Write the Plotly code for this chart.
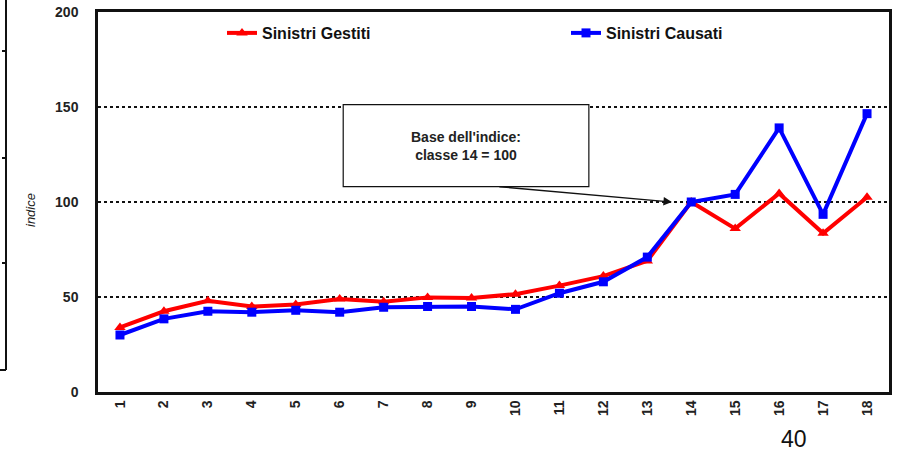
import plotly.graph_objects as go

classi = list(range(1, 19))
tick_labels = [str(c) for c in classi]
sinistri_gestiti = [34, 42.5, 48, 45, 46, 49, 47.5, 49.8, 49.5, 51.5, 56, 61, 69, 100, 86, 104.5, 83.5, 102.5]
sinistri_causati = [30, 38.5, 42.5, 42, 43, 42, 44.6, 45, 45, 43.5, 52, 58, 71, 100, 104, 139, 93.5, 146.5]
y_ticks = [0, 50, 100, 150, 200]

W, H = 901, 452
L, R, T, B = 98, 12, 12, 60
PW, PH = W - L - R, H - T - B

def px_x(px):
    return (px - L) / PW

def px_y(py):
    return (H - B - py) / PH

FONT = "Liberation Sans, Arial, sans-serif"

fig = go.Figure()
fig.add_trace(go.Scatter(
    x=classi, y=sinistri_gestiti, name="Sinistri Gestiti", mode="lines+markers",
    line=dict(color="#ff0000", width=4),
    marker=dict(symbol="triangle-up", size=10, color="#ff0000"),
    legend="legend", showlegend=True))
fig.add_trace(go.Scatter(
    x=classi, y=sinistri_causati, name="Sinistri Causati", mode="lines+markers",
    line=dict(color="#0000ff", width=4),
    marker=dict(symbol="square", size=9, color="#0000ff"),
    legend="legend2", showlegend=True))

shapes = [
    dict(type="rect", xref="x", yref="y", x0=6.08, x1=11.67, y0=108.1, y1=151.2,
         line=dict(color="#111111", width=1.2), fillcolor="white", layer="above"),
    dict(type="line", xref="paper", yref="paper", x0=px_x(6), x1=px_x(6), y0=px_y(0), y1=px_y(370),
         line=dict(color="#111111", width=2)),
    dict(type="line", xref="paper", yref="paper", x0=px_x(0), x1=px_x(6), y0=px_y(370), y1=px_y(370),
         line=dict(color="#111111", width=2)),
]
for ty in [51, 158, 263]:
    shapes.append(dict(type="line", xref="paper", yref="paper", x0=px_x(2), x1=px_x(6),
                       y0=px_y(ty), y1=px_y(ty), line=dict(color="#111111", width=2)))

annotations = [
    dict(x=13.56, y=100, ax=9.6, ay=108.1, xref="x", yref="y", axref="x", ayref="y",
         text="", showarrow=True, arrowhead=2, arrowsize=1.3, arrowwidth=1.3, arrowcolor="#111111"),
    dict(x=8.875, y=129.5, xref="x", yref="y", text="Base dell'indice:<br>classe 14 = 100",
         showarrow=False, font=dict(family=FONT, size=14, color="#222222", weight="bold")),
    dict(x=px_x(30), y=px_y(210), xref="paper", yref="paper", xanchor="center", yanchor="middle",
         text="<i>indice</i>", textangle=-90,
         showarrow=False, font=dict(family=FONT, size=13, color="#222222")),
    dict(x=px_x(794), y=px_y(439), xref="paper", yref="paper", xanchor="center", yanchor="middle",
         text="40", showarrow=False, borderpad=0,
         font=dict(family="Liberation Sans Narrow, Liberation Sans, sans-serif", size=23, color="#111111")),
]

fig.update_layout(
    width=W, height=H,
    margin=dict(l=L, r=R, t=T, b=B),
    paper_bgcolor="white", plot_bgcolor="white",
    font=dict(family=FONT, color="#222222"),
    showlegend=True,
    shapes=shapes, annotations=annotations,
    legend=dict(x=px_x(222), y=px_y(33), xanchor="left", yanchor="middle",
                bgcolor="rgba(0,0,0,0)", font=dict(family=FONT, size=16, color="#111111", weight="bold")),
    legend2=dict(x=px_x(566), y=px_y(33), xanchor="left", yanchor="middle",
                 bgcolor="rgba(0,0,0,0)", font=dict(family=FONT, size=16, color="#111111", weight="bold")),
    xaxis=dict(range=[0.5, 18.5], tickvals=classi, ticktext=tick_labels, tickangle=-90,
               showgrid=False, showline=True, linecolor="#111111", linewidth=2.5, mirror=True,
               ticks="", zeroline=False, automargin=False,
               tickfont=dict(family=FONT, size=14, color="#222222", weight="bold")),
    yaxis=dict(range=[0, 200], tickvals=y_ticks, showgrid=True, gridcolor="#111111",
               griddash="dot", gridwidth=1.5, showline=True, linecolor="#111111", linewidth=2.5,
               mirror=True, ticks="", zeroline=False, ticklabelstandoff=14, automargin=False,
               tickfont=dict(family=FONT, size=14, color="#222222", weight="bold")),
)

fig.write_html("out.html", config={"displayModeBar": False},
               post_script="document.body.style.margin='0';")
